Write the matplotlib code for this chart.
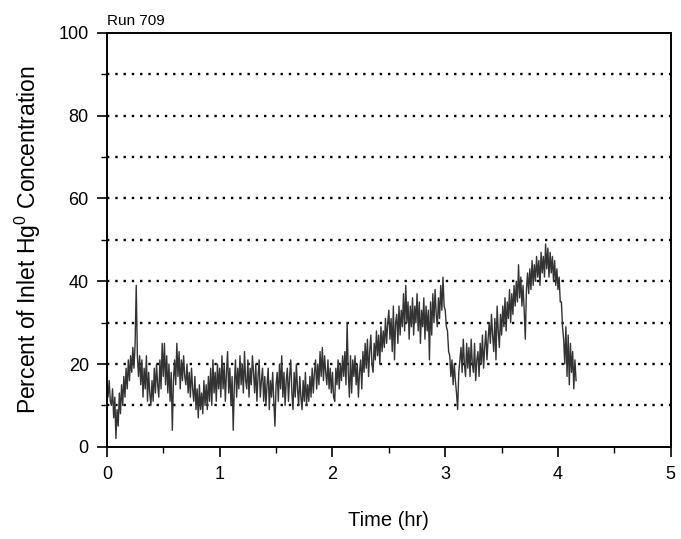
import matplotlib
matplotlib.use("Agg")
import matplotlib.pyplot as plt
import numpy as np

plt.rcParams['font.family'] = ['Liberation Sans', 'DejaVu Sans']
plt.rcParams['mathtext.fontset'] = 'custom'
plt.rcParams['mathtext.rm'] = 'Liberation Sans'
plt.rcParams['mathtext.it'] = 'Liberation Sans'

# percent of inlet Hg0, one reading every 0.01 hr
pct = [
    15, 12, 16, 11, 10, 14, 7, 12, 2, 9,
    5, 13, 8, 15, 10, 17, 12, 19, 14, 21,
    16, 22, 18, 24, 19, 25, 39, 22, 17, 22,
    15, 21, 12, 19, 14, 22, 11, 18, 13, 10,
    16, 11, 19, 13, 20, 15, 12, 21, 14, 25,
    17, 25, 15, 22, 13, 20, 11, 18, 4, 16,
    21, 15, 25, 17, 23, 14, 21, 16, 22, 17,
    15, 20, 13, 18, 12, 19, 14, 11, 17, 9,
    14, 7, 15, 9, 13, 8, 16, 10, 15, 9,
    17, 11, 19, 10, 21, 13, 18, 11, 20, 14,
    19, 12, 22, 14, 20, 11, 18, 23, 13, 19,
    10, 17, 4, 15, 21, 12, 19, 14, 22, 15,
    20, 13, 23, 16, 14, 21, 12, 19, 15, 22,
    18, 13, 20, 11, 17, 21, 12, 16, 19, 11,
    17, 10, 15, 19, 9, 16, 12, 18, 11, 5,
    15, 18, 11, 20, 14, 22, 12, 18, 10, 16,
    19, 11, 17, 21, 13, 9, 18, 12, 20, 14,
    10, 17, 12, 9, 16, 11, 18, 10, 15, 11,
    17, 12, 19, 13, 18, 21, 14, 20, 15, 23,
    17, 24, 16, 22, 18, 15, 21, 14, 19, 13,
    18, 12, 11, 19, 15, 21, 14, 20, 16, 22,
    17, 23, 15, 30, 18, 12, 22, 13, 21, 17,
    22, 15, 20, 12, 18, 21, 14, 23, 18, 25,
    19, 26, 17, 23, 27, 20, 18, 25, 21, 28,
    22, 27, 20, 29, 23, 28, 24, 31, 25, 30,
    33, 26, 31, 23, 34, 21, 30, 32, 25, 34,
    27, 33, 29, 37, 28, 39, 30, 35, 26, 34,
    29, 36, 27, 34, 30, 37, 28, 35, 25, 33,
    29, 36, 26, 34, 28, 33, 21, 35, 27, 37,
    30, 38, 32, 29, 36, 31, 39, 33, 41, 34,
    33, 29, 28, 23, 22, 17, 21, 15, 20, 16,
    13, 9, 18, 21, 24, 18, 26, 20, 17, 25,
    19, 24, 17, 26, 20, 18, 25, 16, 21, 23,
    17, 25, 20, 27, 19, 24, 28, 21, 26, 30,
    25, 32, 27, 23, 31, 21, 34, 28, 24, 32,
    27, 34, 29, 36, 28, 35, 31, 38, 30, 37,
    32, 39, 34, 40, 35, 44, 36, 41, 34, 39,
    33, 26, 38, 42, 37, 43, 38, 45, 39, 44,
    40, 46, 41, 45, 39, 47, 42, 46, 41, 49,
    43, 48, 41, 47, 42, 46, 40, 45, 39, 43,
    38, 41, 35, 35, 29, 26, 20, 29, 17, 27,
    15, 25, 18, 23, 14, 21, 16,
]
t = np.arange(len(pct)) * 0.01
grid_levels = [10, 20, 30, 40, 50, 60, 70, 80, 90]

fig = plt.figure(figsize=(6.81, 5.39), dpi=100)
ax = fig.add_axes([0.157, 0.171, 0.828, 0.768])

for g in grid_levels:
    ax.axhline(g, color='black', lw=1.7, linestyle=(0, (1, 2.5)), zorder=1)

ax.plot(t, pct, color='#333333', lw=1.0, zorder=2)

ax.set_xlim(0, 5)
ax.set_ylim(0, 100)
ax.set_xticks(range(6))
ax.set_xticks(np.arange(0.5, 5, 1), minor=True)
ax.set_yticks(range(0, 101, 20))
ax.set_yticks(range(10, 100, 20), minor=True)
ax.tick_params(axis='both', which='major', direction='out', length=7, width=1.2,
               labelsize=13)
ax.tick_params(axis='x', which='major', pad=7)
ax.tick_params(axis='y', which='major', pad=6)
ax.tick_params(axis='both', which='minor', direction='out', length=4, width=1.0)
for s in ax.spines.values():
    s.set_linewidth(1.4)

ax.set_xlabel('Time (hr)', fontsize=14.5, labelpad=20)
ax.set_ylabel(r'Percent of Inlet Hg$^0$ Concentration', fontsize=16.5, labelpad=11)
ax.text(0.0, 1.012, 'Run 709', transform=ax.transAxes, ha='left', va='bottom',
        fontsize=11)

plt.savefig('out.png', dpi=100)
